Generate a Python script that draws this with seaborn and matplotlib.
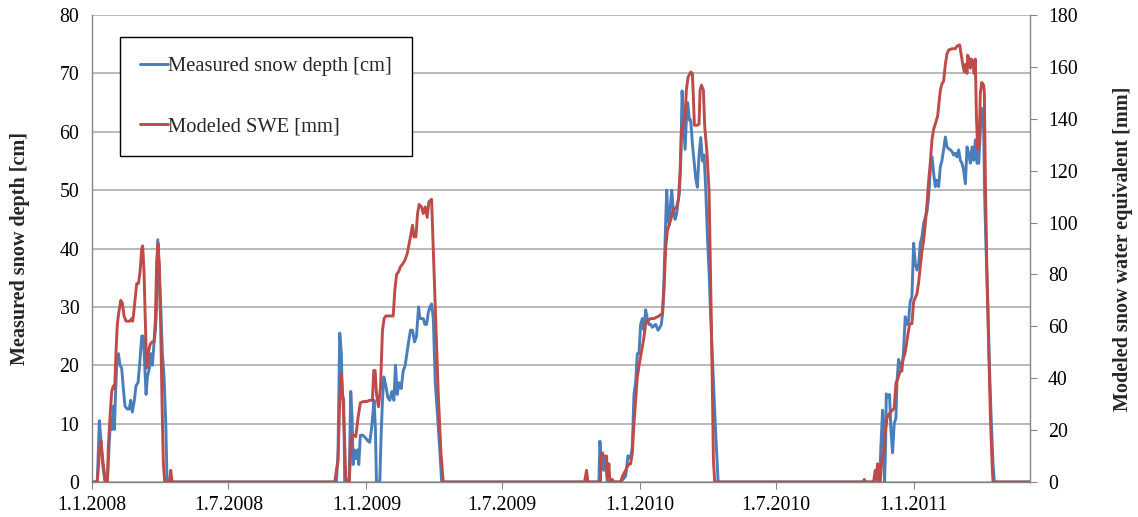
import numpy as np
import pandas as pd
import matplotlib
matplotlib.use("Agg")
import matplotlib.pyplot as plt
import seaborn as sns

# ---------------- data (days relative to 1 January of the winter's year) ----------------
season_anchor = ["2008-01-01", "2009-01-01", "2010-01-01", "2011-01-01"]

# Measured snow depth [cm]
depth_w1_day = [0, 7, 9.8, 12, 14.2, 17.4, 20.5, 23.1, 24.9, 26.7, 28.5, 29.8, 31.6, 32.9, 35.2,
                37.4, 39.6, 41.8, 44, 47.2, 49.8, 51.6, 53.8, 56.5, 58.7, 61.4, 64.1, 66.3, 68.5, 69.9,
                72.1, 73.9, 76.5, 78.3, 80.6, 82.8, 84.6, 86.3, 87.7, 89.9, 91.7, 93.9, 96.1, 98.4, 100.1]
depth_w1_cm = [0, 0, 10.5, 7, 3, 0, 0, 7, 11, 9, 13, 9, 16, 20, 22,
               20, 19.5, 16, 13, 12.5, 12.5, 14, 12, 14, 16.5, 17, 21, 25, 25, 21,
               15, 18, 19.5, 22, 20, 24, 26, 30, 41.5, 35, 30, 22, 18, 10, 0]

depth_w2_day = [-49, -40, -37.9, -35.6, -33.4, -32.3, -30.3, -29, -25.8, -23.1, -20.9, -19.1, -17.8, -16, -14.2,
                -12, -10.2, -8.1, -4.5, -0.9, 2.2, 4.4, 6.7, 8.9, 10.2, 12, 13.4, 17.8, 19.6, 21.4,
                23.2, 25.9, 28.5, 31.2, 33.9, 36.6, 38.8, 41, 43.7, 46.4, 49, 51.7, 53.9, 56.2, 58.8,
                61.5, 64.2, 66.8, 69.5, 71.3, 73.5, 75.8, 78, 80.2, 82.5, 84.7, 86.9, 89.2, 91.8, 94.5,
                98.1, 100.3]
depth_w2_cm = [0, 0, 5, 25.5, 22, 15, 14, 0, 0, 0, 15.5, 11, 3, 5.5, 4,
               5.5, 3, 8, 8, 7.5, 7, 6.8, 9, 12, 14, 9, 0, 0, 8, 14,
               18, 16.5, 14.5, 14, 15.5, 14, 20, 15, 17, 16, 19, 20, 22, 24, 26,
               26, 24, 25, 30, 28, 28, 28, 27, 27, 29, 30, 30.5, 28, 17, 12,
               5, 0]

depth_w3_day = [-79.4, -55, -53.6, -51.8, -50.1, -48.3, -46, -43.8, -26, -19.3, -16.2, -12.7, -10.4, -8.2, -6,
                -3.7, -1.5, 0.7, 3, 5.2, 7.4, 9.6, 11.8, 14.1, 16.3, 20.7, 23.9, 26.5, 28.3, 30.1,
                31.9, 33.7, 35.5, 37.3, 39, 40.8, 42.2, 44, 46.6, 48.8, 50.6, 52.4, 54.2, 56, 57.7,
                60, 61.7, 63.5, 65.7, 67.5, 69.7, 72, 74.2, 76.4, 78.6, 80.9, 83.1, 85.3, 87.6, 89.8,
                92, 94.2, 96.5, 98.7, 100.9, 104.1]
depth_w3_cm = [0, 0, 7, 3, 5, 2, 4, 0, 0, 1, 4.5, 4, 6, 15, 17,
               22, 22, 27, 28, 26, 29.5, 28, 27, 27, 26.5, 27, 26, 26.5, 27, 29,
               35, 43, 50, 45, 44, 48, 50, 47, 45, 46, 48, 49.5, 55, 67, 62,
               57, 62, 65, 62, 62, 58, 55, 52, 50.5, 56, 59, 55, 56, 50, 42,
               36, 28, 21, 14, 8, 0]

depth_w4_day = [-84.8, -45.6, -43.9, -41.6, -40.3, -39, -37.6, -36.7, -34.9, -32.3, -30.5, -28.3, -26.1, -23.8, -22.5,
                -20.3, -18.1, -15.8, -13.6, -11.4, -9.1, -6.9, -4.7, -2.5, -0.2, 2, 4.2, 6.5, 8.7, 10.9,
                13.1, 15.4, 17.6, 19.8, 22, 24.3, 26.5, 28.7, 30.9, 33.2, 35.4, 37.6, 39.8, 42.1, 44.3,
                46.5, 48.7, 51, 53.2, 55.4, 57.6, 59.9, 62.1, 64.3, 66.5, 68.8, 71, 73.2, 75.4, 77.7,
                79.9, 82.1, 84.3, 86.6, 88.8, 91, 93.2, 94.5, 96.3, 98.5, 100.8, 103, 105.7, 107.5, 154.7]
depth_w4_cm = [0, 0, 6, 12.3, 8, 0, 6, 15.1, 14.5, 15, 9, 5, 10, 11, 17,
               21, 20, 19, 22.6, 28.3, 27, 27.7, 31, 31.7, 40.9, 37.4, 36.3, 37.4, 40.9, 42,
               44.3, 45.4, 46.3, 48.9, 53.4, 55.7, 52.9, 50.6, 51.7, 50.6, 54, 55.1, 56.9, 59.1, 57.4,
               57.1, 56.9, 56.6, 56, 56.3, 55.7, 56.9, 55.1, 54.6, 53.4, 51.1, 57.4, 56.3, 54.6, 57.4,
               55.1, 58.6, 54.6, 54.6, 60.3, 64, 60.3, 48.9, 40.3, 31.7, 20.3, 11.7, 3, 0, 0]

# Modeled SWE [mm]
swe_w1_day = [0, 7.1, 9.8, 12, 14.2, 17.4, 20.5, 21.8, 24, 26.3, 28.5, 30.3, 32, 33.8, 35.6,
              38.3, 40.5, 42.7, 45.4, 48.5, 50.7, 53, 54.3, 55.6, 57.4, 59.6, 61.9, 64.1, 66.3, 67.6,
              69.4, 71.2, 73, 75.2, 77.4, 80.1, 82.8, 84.6, 86.3, 88.1, 89.9, 91.7, 93.5, 95.2, 97,
              103.2, 105, 106.8]
swe_w1_mm = [0, 0, 11, 16, 9, 1, 0, 13.5, 25, 35, 37, 36, 50, 61, 65,
             70, 69, 64, 62, 62, 62, 63, 62, 65, 70, 76.5, 76.5, 81, 90, 91,
             81, 61, 44, 50, 53, 54, 54, 63, 85.5, 92, 83, 58.5, 29, 7, 0,
             0, 4.5, 0]

swe_w2_day = [-49, -42.3, -40, -37.9, -35.6, -33.4, -31.2, -29.4, -27.6, -25.8, -23.1, -21.3, -19.6, -16.9, -14.2,
              -11.1, -8.1, -4.5, 0, 4.4, 8, 9.8, 11.6, 13.4, 16, 18.7, 21.4, 23.6, 25.9, 31.2,
              35.7, 37.9, 40.2, 42.8, 45.5, 48.2, 51.3, 54.4, 57.1, 59.3, 61.5, 63.3, 66, 68.2, 70.4,
              73.5, 75.8, 78.4, 81.1, 83.3, 86.9, 89.2, 91.8, 95.8, 99.4, 102.5]
swe_w2_mm = [0, 0, 4.5, 8, 31.5, 41.5, 31.5, 18, 2, 0, 0, 9, 18, 18, 17.5,
             25, 30.5, 31, 31, 31.5, 31.5, 43, 43, 34, 29, 36, 58.5, 63, 64, 64,
             64, 74, 80, 81, 83, 84, 85.5, 88, 92, 95.5, 99, 94.5, 94.5, 103.5, 107,
             106, 103.5, 106, 102, 108, 109, 90, 67.5, 34, 11, 0]

swe_w3_day = [-79.4, -74.1, -71.4, -69.6, -53, -51.8, -48.3, -44.7, -43.8, -41.6, -40.3, -37.2, -34.9, -26, -23.8,
              -19.3, -14.9, -12.7, -10.4, -8.2, -6, -3.7, -0.2, 3, 5.2, 7.4, 9.6, 14.1, 18.5, 25.2,
              29.7, 31.9, 34.1, 36.4, 38.6, 40.8, 44.4, 48.8, 51.1, 53.3, 55.1, 57.3, 59.9, 61.7, 63.9,
              67.5, 69.7, 71.1, 72.4, 76.4, 78.6, 80, 81.8, 84.4, 86.2, 88.9, 92, 95.1, 97.8, 99.6]
swe_w3_mm = [0, 0, 4.5, 0, 0, 11, 10, 10, 2, 7, 0, 1, 0, 0, 2,
             4.5, 7, 7, 11, 22.5, 31.5, 40.5, 47, 52, 56, 61, 62, 63, 63, 64,
             65, 74, 90, 97, 99, 101, 105, 106, 109, 119, 135, 138, 140, 151, 156,
             158, 157.5, 148, 137.5, 137.5, 138, 151, 153, 151, 137, 128, 112, 60, 8, 0]

swe_w4_day = [-84.8, -67, -66.1, -64.8, -53.6, -51.4, -50.1, -48.3, -47, -44.8, -42.5, -40.3, -38.5, -35.8, -33.6,
              -29.2, -26.1, -23.8, -21.6, -19, -17.2, -14.5, -11.4, -8.2, -5.6, -2.5, -0.2, 2, 4.2, 6.5,
              8.7, 10.9, 13.1, 15.4, 17.6, 19.8, 22, 24.3, 26.5, 28.7, 31.8, 33.2, 35.4, 37.6, 39.8,
              42.1, 44.3, 46.5, 51, 55.4, 57.6, 61.2, 63.4, 65.6, 67.4, 69.2, 71, 71.9, 73.6, 75.4,
              76.8, 79, 80.4, 82.1, 83.5, 85.3, 87.1, 88.8, 90.6, 93.2, 94.1, 95.5, 97.7, 99.9, 102.1,
              104.4, 105.7, 154.7]
swe_w4_mm = [0, 0, 1, 0, 0, 4.5, 1, 7, 0, 0, 9, 11, 18, 24.5, 26,
             27.5, 28.5, 38, 39.5, 42, 43, 47, 50, 56, 61, 61, 69.5, 71, 72.5, 77,
             83, 89, 93, 99.5, 107, 116, 123, 132, 136, 138, 141, 145, 151, 153.5, 154.5,
             161, 165, 166.5, 167, 167, 168, 168.5, 164.5, 160.5, 158, 161, 157.5, 164.5, 163, 159.5,
             163, 162, 157.5, 163, 141, 128, 130, 150, 154, 153, 150, 116, 78, 52, 26,
             7, 0, 0]

tick_dates = ["2008-01-01", "2008-07-01", "2009-01-01", "2009-07-01", "2010-01-01", "2010-07-01", "2011-01-01"]
tick_labels = ["1.1.2008", "1.7.2008", "1.1.2009", "1.7.2009", "1.1.2010", "1.7.2010", "1.1.2011"]
x_start, x_end = "2008-01-01", "2011-06-05"

depth_label = "Measured snow depth [cm]"
swe_label = "Modeled SWE [mm]"


def build(days_list, vals_list):
    frames = []
    for anchor, d, v in zip(season_anchor, days_list, vals_list):
        dates = pd.Timestamp(anchor) + pd.to_timedelta(np.asarray(d, dtype=float), unit="D")
        frames.append(pd.DataFrame({"date": dates, "value": v}))
    return pd.concat(frames, ignore_index=True)


depth_df = build([depth_w1_day, depth_w2_day, depth_w3_day, depth_w4_day],
                 [depth_w1_cm, depth_w2_cm, depth_w3_cm, depth_w4_cm])
swe_df = build([swe_w1_day, swe_w2_day, swe_w3_day, swe_w4_day],
               [swe_w1_mm, swe_w2_mm, swe_w3_mm, swe_w4_mm])

# ---------------- plot ----------------
sns.set_style("white")
plt.rcParams["font.family"] = ["Liberation Serif", "DejaVu Serif"]

BLUE = "#4a7ebb"
RED = "#be4b48"
GRID = "#a6a6a6"
SPINE = "#868686"

W, H = 1138, 517
fig = plt.figure(figsize=(W / 100, H / 100), dpi=100)
ax = fig.add_axes([92 / W, 1 - 482 / H, (1030 - 92) / W, (482 - 15) / H])
ax2 = ax.twinx()

sns.lineplot(data=depth_df, x="date", y="value", ax=ax, color=BLUE, linewidth=2.1,
             estimator=None, sort=False, label=depth_label)
sns.lineplot(data=swe_df, x="date", y="value", ax=ax2, color=RED, linewidth=2.1,
             estimator=None, sort=False, label=swe_label)

for a in (ax, ax2):
    if a.get_legend() is not None:
        a.get_legend().remove()
    a.set_xlabel("")

ax.set_ylim(0, 80)
ax.set_yticks(range(0, 81, 10))
ax2.set_ylim(0, 180)
ax2.set_yticks(range(0, 181, 20))

ax.set_xlim(pd.Timestamp(x_start), pd.Timestamp(x_end))
ax.set_xticks(pd.to_datetime(tick_dates))
ax.set_xticklabels(tick_labels)

ax.yaxis.grid(True, color=GRID, linewidth=1.1)
ax.xaxis.grid(False)
ax.set_axisbelow(True)

for s in ("top", "right"):
    ax.spines[s].set_visible(False)
for s in ("left", "bottom"):
    ax.spines[s].set_color(SPINE)
    ax.spines[s].set_linewidth(1.0)
for s in ("top", "left", "bottom"):
    ax2.spines[s].set_visible(False)
ax2.spines["right"].set_color(SPINE)
ax2.spines["right"].set_linewidth(1.0)

ax.tick_params(axis="y", left=False, length=0, pad=9, labelsize=14.3, labelcolor="black")
ax.tick_params(axis="x", bottom=True, length=5, color=SPINE, direction="out", pad=5,
               labelsize=14.3, labelcolor="black")
ax2.tick_params(axis="y", right=True, length=5, color=SPINE, direction="out", pad=8,
                labelsize=14.3, labelcolor="black")

ax.set_ylabel(depth_label, fontsize=14.5, fontweight="bold")
ax.yaxis.set_label_coords(-0.066, 0.5)
ax2.set_ylabel("Modeled snow water equivalent [mm]", fontsize=14.5, fontweight="bold")
ax2.yaxis.set_label_coords(1.0885, 0.5)

handles = ax.get_lines()[:1] + ax2.get_lines()[:1]
leg = ax2.legend(handles, [depth_label, swe_label], loc="upper left",
                 bbox_to_anchor=(0.0299, 0.9529), borderaxespad=0, frameon=True,
                 fancybox=False, edgecolor="black", framealpha=1, fontsize=14.8,
                 handlelength=1.4, handletextpad=0.0, labelspacing=2.0, borderpad=0.95)
leg.get_frame().set_linewidth(1.0)

fig.savefig("out.png", dpi=100)
